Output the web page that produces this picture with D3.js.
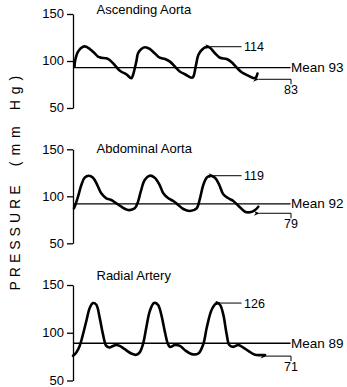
<!DOCTYPE html>
<html><head><meta charset="utf-8">
<script src="https://cdn.jsdelivr.net/npm/d3@7"></script>
<style>body{margin:0;background:#fff}svg{display:block}</style>
</head><body>
<svg id="c" width="347" height="387"></svg>
<script>
// ---- data ----
const panelTitles = ["Ascending Aorta", "Abdominal Aorta", "Radial Artery"];
const yTicks = [50, 100, 150];
const meanValues = [93, 92, 89];
const peakLabels = [114, 119, 126];
const minLabels = [83, 79, 71];
const yAxisLabel = ["PRESSURE", "(mm Hg)"];

// time in seconds, pressure in mm Hg
const ascendingTime = [0.02,0.03,0.067,0.133,0.177,0.223,0.289,0.333,0.377,0.444,0.489,0.556,0.6,0.644,0.711,0.777,0.8,0.844,0.867,0.911,0.964,1.023,1.089,1.156,1.227,1.293,1.36,1.427,1.493,1.583,1.604,1.64,1.671,1.716,1.783,1.827,1.893,1.96,2.049,2.116,2.183,2.249,2.337,2.413,2.44,2.46];
const ascendingPressure = [94,101,109.9,115.2,115.2,112.8,108.2,104.6,103.5,102.9,101.1,95.7,91.5,88.6,85.9,81.6,85.1,99.3,108.2,112.8,114.6,112.8,108.2,103.5,102.1,99.3,93.9,88.6,85.9,82.2,83.3,95.7,106.4,111.7,115.2,114.1,108.2,103.5,102.1,98.6,92.9,88,84.4,81.6,82.5,86.7];

const abdominalTime = [0.013,0.031,0.067,0.111,0.156,0.209,0.267,0.324,0.377,0.444,0.511,0.577,0.644,0.733,0.823,0.867,0.903,0.956,1.023,1.089,1.156,1.204,1.271,1.337,1.404,1.471,1.56,1.649,1.693,1.737,1.783,1.827,1.893,1.951,2.004,2.071,2.137,2.204,2.293,2.36,2.427,2.471];
const abdominalPressure = [87.2,90.7,99.6,112,119.8,121.9,119.8,112,103.2,97.9,96.1,92.6,88.9,85.4,87.2,94.3,104.9,117.3,121.9,119.8,112,103.2,97.9,95,90.7,86.5,84.4,87.2,97.9,112,119.8,121.9,119.8,112,102.1,97.9,95,90,83.6,83,85.4,88.9];

const radialTime = [0,0.044,0.089,0.133,0.177,0.223,0.267,0.311,0.356,0.4,0.444,0.489,0.533,0.577,0.623,0.689,0.777,0.844,0.889,0.933,0.977,1.023,1.08,1.133,1.177,1.223,1.267,1.293,1.36,1.427,1.493,1.583,1.671,1.737,1.783,1.849,1.916,1.96,2.004,2.049,2.084,2.137,2.204,2.271,2.337,2.427,2.516,2.56];
const radialPressure = [75.9,79.4,86.2,98.3,112,125.9,131.1,129.3,115.6,98.3,86.2,84.5,86.2,87.2,86.2,82.8,78.3,76.9,79.4,88,105.2,122.4,131.1,129.3,119,101.7,88,85.2,87.2,86.2,81.7,77.6,78.3,88,105.2,124.1,131.1,129.3,119,98.3,87.2,85.2,87.2,84.5,81,76.9,76.6,76.6];

const timeDomain = [0, 2.9];
const pressureDomain = [50, 150];

// ---- layout ----
const svg = d3.select("#c");
const font = "'Liberation Sans', Arial, Helvetica, sans-serif";
const axisX = 73;
const x = d3.scaleLinear().domain(timeDomain).range([axisX, 290.5]);

const panels = [
  {title: panelTitles[0], t: ascendingTime, p: ascendingPressure, mean: meanValues[0], peak: peakLabels[0], min: minLabels[0], top: 14, bottom: 108, titleY: 14},
  {title: panelTitles[1], t: abdominalTime, p: abdominalPressure, mean: meanValues[1], peak: peakLabels[1], min: minLabels[1], top: 149.3, bottom: 243.3, titleY: 153},
  {title: panelTitles[2], t: radialTime, p: radialPressure, mean: meanValues[2], peak: peakLabels[2], min: minLabels[2], top: 285, bottom: 380.5, titleY: 280}
];

// arrow marker
svg.append("defs").append("marker")
  .attr("id", "arr").attr("viewBox", "0 0 10 10").attr("refX", 1).attr("refY", 5)
  .attr("markerWidth", 7).attr("markerHeight", 6).attr("orient", "auto-start-reverse")
  .attr("markerUnits", "userSpaceOnUse")
  .append("path").attr("d", "M0,5 L10,1 L7,5 L10,9 Z").attr("fill", "#000");

panels.forEach(pn => {
  const y = d3.scaleLinear().domain(pressureDomain).range([pn.bottom, pn.top]);
  const g = svg.append("g");

  const axis = d3.axisLeft(y).tickValues(yTicks).tickSize(6).tickSizeOuter(0).tickPadding(3);
  const ag = g.append("g").attr("transform", `translate(${axisX},0)`).call(axis);
  ag.select(".domain").attr("stroke", "#000").attr("stroke-width", 1.3);
  ag.selectAll(".tick line").attr("stroke", "#000").attr("stroke-width", 1.3);
  ag.selectAll(".tick text").attr("font-family", font).attr("font-size", 13).attr("fill", "#000").attr("dy", "0.3em");

  g.append("text").attr("x", 96.5).attr("y", pn.titleY)
    .attr("font-family", font).attr("font-size", 13).attr("fill", "#000").text(pn.title);

  // mean line
  g.append("line").attr("x1", x(timeDomain[0])).attr("x2", x(timeDomain[1]))
    .attr("y1", y(pn.mean)).attr("y2", y(pn.mean)).attr("stroke", "#000").attr("stroke-width", 1.3);
  g.append("text").attr("x", x(timeDomain[1]) + 0.5).attr("y", y(pn.mean) + 4.5)
    .attr("font-family", font).attr("font-size", 13.5).attr("fill", "#000").text("Mean " + pn.mean);

  // waveform
  const pts = pn.t.map((t, i) => [t, pn.p[i]]);
  const line = d3.line().x(d => x(d[0])).y(d => y(d[1])).curve(d3.curveCatmullRom.alpha(0.5));
  g.append("path").attr("d", line(pts)).attr("fill", "none").attr("stroke", "#000")
    .attr("stroke-width", 2.6).attr("stroke-linejoin", "round").attr("stroke-linecap", "round");

  // peak annotation (third cycle)
  const last = pts.filter(d => d[0] > 1.65);
  const pk = last.reduce((a, b) => b[1] > a[1] ? b : a);
  const py = y(pk[1]);
  g.append("line").attr("x1", x(pk[0]) + 4).attr("x2", 241.5).attr("y1", py).attr("y2", py)
    .attr("stroke", "#000").attr("stroke-width", 1).attr("marker-start", "url(#arr)");
  g.append("text").attr("x", 244).attr("y", py + 4.5)
    .attr("font-family", font).attr("font-size", 12.5).attr("fill", "#000").text(pn.peak);

  // min annotation
  const mn = last.reduce((a, b) => b[1] < a[1] ? b : a);
  const endT = pts[pts.length - 1][0];
  const my = y(mn[1]) + 1;
  g.append("path").attr("d", `M${x(endT) + 1},${my} H291 V${my + 5}`)
    .attr("fill", "none").attr("stroke", "#000").attr("stroke-width", 1).attr("marker-start", "url(#arr)");
  g.append("text").attr("x", 291).attr("y", my + 15).attr("text-anchor", "middle")
    .attr("font-family", font).attr("font-size", 12.5).attr("fill", "#000").text(pn.min);
});

// y axis label
svg.append("text").attr("transform", "translate(20,236) rotate(-90)").attr("text-anchor", "middle")
  .attr("font-family", font).attr("font-size", 14).attr("letter-spacing", 4).attr("fill", "#000").text(yAxisLabel[0]);
svg.append("text").attr("transform", "translate(20,118) rotate(-90)").attr("text-anchor", "middle")
  .attr("font-family", font).attr("font-size", 14).attr("letter-spacing", 6).attr("fill", "#000").text(yAxisLabel[1]);
</script>
</body></html>
